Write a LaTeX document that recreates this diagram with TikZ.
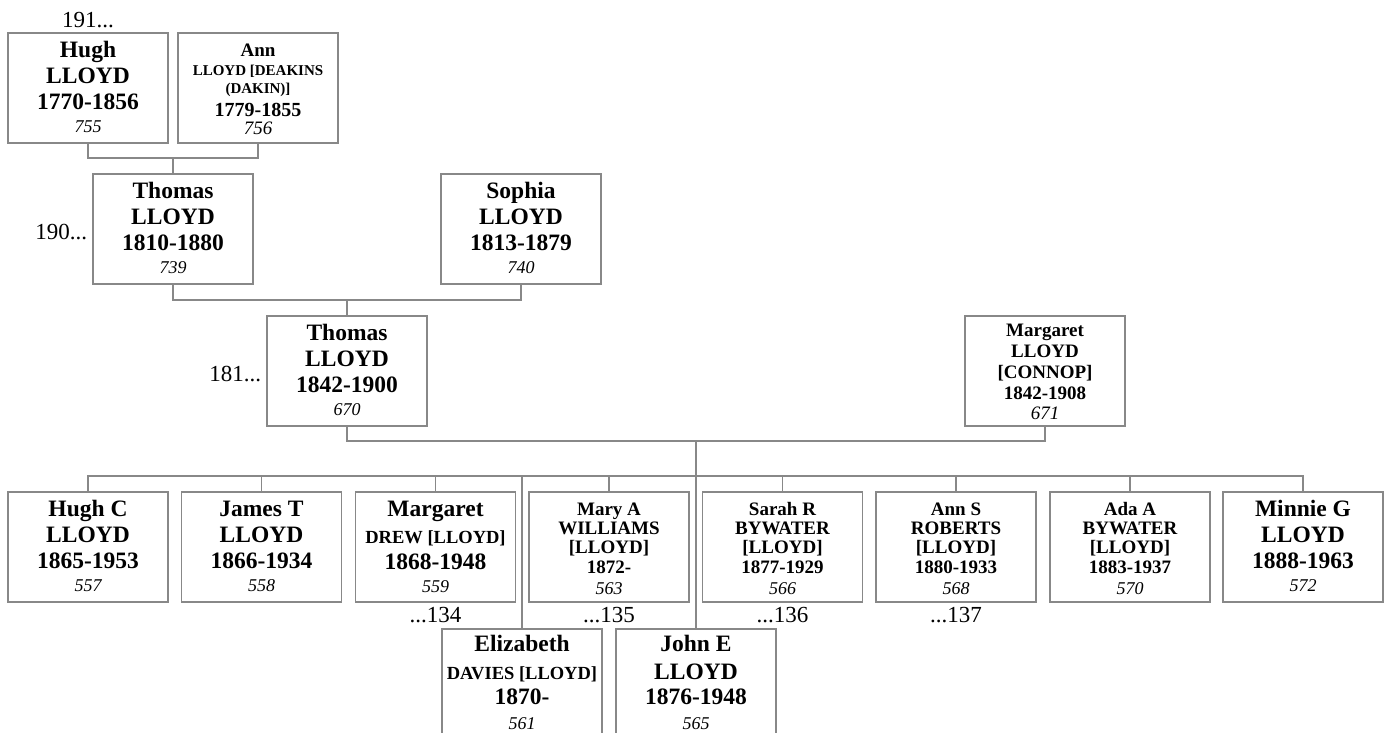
\documentclass[tikz,border=0pt]{standalone}
\usepackage{fontspec}
\setmainfont{Liberation Serif}
\definecolor{linegray}{RGB}{136,136,136}
\newcommand\fB{\fontsize{23.5}{26}\selectfont\bfseries}
\newcommand\fI{\fontsize{18}{20}\selectfont\itshape}
\newcommand\fM{\fontsize{18.5}{20}\selectfont\bfseries}
\newcommand\fS{\fontsize{19}{21}\selectfont\bfseries}
\newcommand\fSi{\fontsize{18}{20}\selectfont\itshape}
\newcommand\fC{\fontsize{19}{21}\selectfont\bfseries}
\newcommand\fCi{\fontsize{19}{21}\selectfont\itshape}
\newcommand\fAnn{\fontsize{19}{21}\selectfont\bfseries}
\newcommand\fAnnS{\fontsize{15}{17}\selectfont\bfseries}
\newcommand\fAnnD{\fontsize{20}{22}\selectfont\bfseries}
\newcommand\fL{\fontsize{23}{25}\selectfont}
\tikzset{
  pbox/.style={draw=linegray, line width=1.3pt, fill=white, minimum width=160pt, minimum height=110pt, inner sep=0pt},
  txt/.style={anchor=base, inner sep=0pt},
  conn/.style={draw=linegray, line width=1.3pt},
  lbl/.style={inner sep=0pt, font=\fL}
}
\begin{document}
\begin{tikzpicture}[x=1pt,y=-1pt]
\useasboundingbox (0,0) rectangle (1387,733);
\fill[white] (0,0) rectangle (1387,733);
\clip (0,0) rectangle (1387,733);

% boxes
\node[pbox] (p755) at (88,88) {};
\node[pbox] (p756) at (258,88) {};
\node[pbox] (p739) at (173,229) {};
\node[pbox] (p740) at (521,229) {};
\node[pbox] (p670) at (347,371) {};
\node[pbox] (p671) at (1045,371) {};
\node[pbox] (p557) at (88,547) {};
\node[pbox] (p558) at (261.5,547) {};
\node[pbox] (p559) at (435.5,547) {};
\node[pbox] (p563) at (609,547) {};
\node[pbox] (p566) at (782.5,547) {};
\node[pbox] (p568) at (956,547) {};
\node[pbox] (p570) at (1130,547) {};
\node[pbox] (p572) at (1303,547) {};
\node[pbox] (p561) at (522,684) {};
\node[pbox] (p565) at (696,684) {};

% connectors
\coordinate (m1) at (173,158);
\coordinate (m2) at (347,300);
\coordinate (m3) at (696,441);
\coordinate (bar) at (696,476);
\draw[conn] (p755.south) |- (m1) -| (p756.south);
\draw[conn] (m1) -- (p739.north);
\draw[conn] (p739.south) |- (m2) -| (p740.south);
\draw[conn] (m2) -- (p670.north);
\draw[conn] (p670.south) |- (m3) -| (p671.south);
\draw[conn] (m3) -- (p565.north);
\draw[conn] (p557.north) |- (bar) -| (p572.north);
\foreach \c in {p558,p559,p563,p566,p568,p570,p561}{
  \draw[conn] (\c.north) -- (\c.north |- bar);
}

% generation labels
\node[lbl, anchor=base] (g191) at ([yshift=5pt]p755.north) {191...};
\node[lbl, anchor=base east] (g190) at ([xshift=-5pt,yshift=-66pt]p739.north west) {190...};
\node[lbl, anchor=base east] (g181) at ([xshift=-5pt,yshift=-66pt]p670.north west) {181...};
\node[lbl, anchor=base] (c134) at ([yshift=-20pt]p559.south) {...134};
\node[lbl, anchor=base] (c135) at ([yshift=-20pt]p563.south) {...135};
\node[lbl, anchor=base] (c136) at ([yshift=-20pt]p566.south) {...136};
\node[lbl, anchor=base] (c137) at ([yshift=-20pt]p568.south) {...137};

% Hugh 755
\node[txt,font=\fB] (t755a) at ([yshift=-25pt]p755.north) {Hugh};
\node[txt,font=\fB] (t755b) at ([yshift=-51pt]p755.north) {LLOYD};
\node[txt,font=\fB] (t755c) at ([yshift=-77pt]p755.north) {1770-1856};
\node[txt,font=\fI] (t755d) at ([yshift=-100pt]p755.north) {755};
% Ann 756
\node[txt,font=\fAnn] (t756a) at ([yshift=-24pt]p756.north) {Ann};
\node[txt,font=\fAnnS] (t756b) at ([yshift=-43pt]p756.north) {LLOYD [DEAKINS};
\node[txt,font=\fAnnS] (t756c) at ([yshift=-61pt]p756.north) {(DAKIN)]};
\node[txt,font=\fAnnD] (t756d) at ([yshift=-84pt]p756.north) {1779-1855};
\node[txt,font=\fCi] (t756e) at ([yshift=-102pt]p756.north) {756};
% Thomas 739
\node[txt,font=\fB] (t739a) at ([yshift=-25pt]p739.north) {Thomas};
\node[txt,font=\fB] (t739b) at ([yshift=-51pt]p739.north) {LLOYD};
\node[txt,font=\fB] (t739c) at ([yshift=-77pt]p739.north) {1810-1880};
\node[txt,font=\fI] (t739d) at ([yshift=-100pt]p739.north) {739};
% Sophia 740
\node[txt,font=\fB] (t740a) at ([yshift=-25pt]p740.north) {Sophia};
\node[txt,font=\fB] (t740b) at ([yshift=-51pt]p740.north) {LLOYD};
\node[txt,font=\fB] (t740c) at ([yshift=-77pt]p740.north) {1813-1879};
\node[txt,font=\fI] (t740d) at ([yshift=-100pt]p740.north) {740};
% Thomas 670
\node[txt,font=\fB] (t670a) at ([yshift=-25pt]p670.north) {Thomas};
\node[txt,font=\fB] (t670b) at ([yshift=-51pt]p670.north) {LLOYD};
\node[txt,font=\fB] (t670c) at ([yshift=-77pt]p670.north) {1842-1900};
\node[txt,font=\fI] (t670d) at ([yshift=-100pt]p670.north) {670};
% Margaret 671
\node[txt,font=\fC] (t671a) at ([yshift=-21pt]p671.north) {Margaret};
\node[txt,font=\fC] (t671b) at ([yshift=-42pt]p671.north) {LLOYD};
\node[txt,font=\fC] (t671c) at ([yshift=-63pt]p671.north) {[CONNOP]};
\node[txt,font=\fC] (t671d) at ([yshift=-84pt]p671.north) {1842-1908};
\node[txt,font=\fCi] (t671e) at ([yshift=-104pt]p671.north) {671};
% Hugh C 557
\node[txt,font=\fB] (t557a) at ([yshift=-25pt]p557.north) {Hugh C};
\node[txt,font=\fB] (t557b) at ([yshift=-51pt]p557.north) {LLOYD};
\node[txt,font=\fB] (t557c) at ([yshift=-77pt]p557.north) {1865-1953};
\node[txt,font=\fI] (t557d) at ([yshift=-100pt]p557.north) {557};
% James T 558
\node[txt,font=\fB] (t558a) at ([yshift=-25pt]p558.north) {James T};
\node[txt,font=\fB] (t558b) at ([yshift=-51pt]p558.north) {LLOYD};
\node[txt,font=\fB] (t558c) at ([yshift=-77pt]p558.north) {1866-1934};
\node[txt,font=\fI] (t558d) at ([yshift=-100pt]p558.north) {558};
% Margaret 559
\node[txt,font=\fB] (t559a) at ([yshift=-25pt]p559.north) {Margaret};
\node[txt,font=\fM] (t559b) at ([yshift=-52pt]p559.north) {DREW [LLOYD]};
\node[txt,font=\fB] (t559c) at ([yshift=-78pt]p559.north) {1868-1948};
\node[txt,font=\fI] (t559d) at ([yshift=-101pt]p559.north) {559};
% Mary A 563
\node[txt,font=\fS] (t563a) at ([yshift=-24pt]p563.north) {Mary A};
\node[txt,font=\fS] (t563b) at ([yshift=-43pt]p563.north) {WILLIAMS};
\node[txt,font=\fS] (t563c) at ([yshift=-62pt]p563.north) {[LLOYD]};
\node[txt,font=\fS] (t563d) at ([yshift=-82pt]p563.north) {1872-};
\node[txt,font=\fSi] (t563e) at ([yshift=-103pt]p563.north) {563};
% Sarah R 566
\node[txt,font=\fS] (t566a) at ([yshift=-24pt]p566.north) {Sarah R};
\node[txt,font=\fS] (t566b) at ([yshift=-43pt]p566.north) {BYWATER};
\node[txt,font=\fS] (t566c) at ([yshift=-62pt]p566.north) {[LLOYD]};
\node[txt,font=\fS] (t566d) at ([yshift=-82pt]p566.north) {1877-1929};
\node[txt,font=\fSi] (t566e) at ([yshift=-103pt]p566.north) {566};
% Ann S 568
\node[txt,font=\fS] (t568a) at ([yshift=-24pt]p568.north) {Ann S};
\node[txt,font=\fS] (t568b) at ([yshift=-43pt]p568.north) {ROBERTS};
\node[txt,font=\fS] (t568c) at ([yshift=-62pt]p568.north) {[LLOYD]};
\node[txt,font=\fS] (t568d) at ([yshift=-82pt]p568.north) {1880-1933};
\node[txt,font=\fSi] (t568e) at ([yshift=-103pt]p568.north) {568};
% Ada A 570
\node[txt,font=\fS] (t570a) at ([yshift=-24pt]p570.north) {Ada A};
\node[txt,font=\fS] (t570b) at ([yshift=-43pt]p570.north) {BYWATER};
\node[txt,font=\fS] (t570c) at ([yshift=-62pt]p570.north) {[LLOYD]};
\node[txt,font=\fS] (t570d) at ([yshift=-82pt]p570.north) {1883-1937};
\node[txt,font=\fSi] (t570e) at ([yshift=-103pt]p570.north) {570};
% Minnie G 572
\node[txt,font=\fB] (t572a) at ([yshift=-25pt]p572.north) {Minnie G};
\node[txt,font=\fB] (t572b) at ([yshift=-51pt]p572.north) {LLOYD};
\node[txt,font=\fB] (t572c) at ([yshift=-77pt]p572.north) {1888-1963};
\node[txt,font=\fI] (t572d) at ([yshift=-100pt]p572.north) {572};
% Elizabeth 561
\node[txt,font=\fB] (t561a) at ([yshift=-23pt]p561.north) {Elizabeth};
\node[txt,font=\fM] (t561b) at ([yshift=-51pt]p561.north) {DAVIES [LLOYD]};
\node[txt,font=\fB] (t561c) at ([yshift=-76pt]p561.north) {1870-};
\node[txt,font=\fI] (t561d) at ([yshift=-101pt]p561.north) {561};
% John E 565
\node[txt,font=\fB] (t565a) at ([yshift=-23pt]p565.north) {John E};
\node[txt,font=\fB] (t565b) at ([yshift=-51pt]p565.north) {LLOYD};
\node[txt,font=\fB] (t565c) at ([yshift=-76pt]p565.north) {1876-1948};
\node[txt,font=\fI] (t565d) at ([yshift=-101pt]p565.north) {565};
\end{tikzpicture}
\end{document}
